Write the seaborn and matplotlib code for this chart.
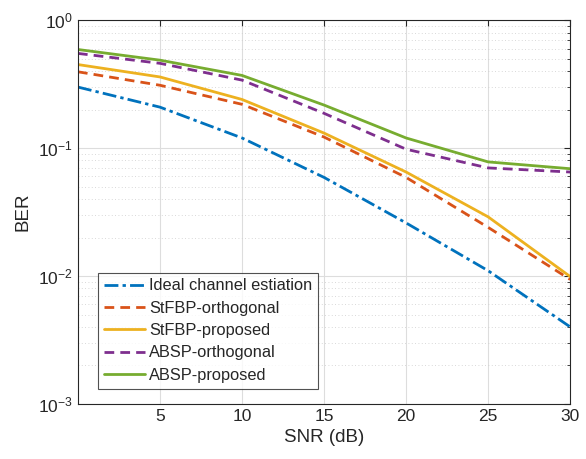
import numpy as np
import pandas as pd
import seaborn as sns
import matplotlib
matplotlib.use("Agg")
import matplotlib.pyplot as plt
from matplotlib.ticker import LogLocator, NullFormatter, FixedLocator

snr = [0, 5, 10, 15, 20, 25, 30]
ideal = [0.30, 0.209, 0.12, 0.059, 0.026, 0.011, 0.0040]
stfbp_orth = [0.395, 0.31, 0.22, 0.122, 0.059, 0.024, 0.0094]
stfbp_prop = [0.45, 0.36, 0.24, 0.131, 0.065, 0.029, 0.0099]
absp_orth = [0.55, 0.46, 0.34, 0.187, 0.098, 0.070, 0.065]
absp_prop = [0.59, 0.487, 0.37, 0.217, 0.12, 0.078, 0.069]
labels = ["Ideal channel estiation", "StFBP-orthogonal", "StFBP-proposed",
          "ABSP-orthogonal", "ABSP-proposed"]
xticks = [5, 10, 15, 20, 25, 30]

sns.set_theme(style="white")
plt.rcParams['font.family'] = ['Liberation Sans', 'DejaVu Sans']

fig = plt.figure(figsize=(5.86, 4.59), dpi=100)
ax = fig.add_axes([0.133, 0.120, 0.840, 0.836])

series = [ideal, stfbp_orth, stfbp_prop, absp_orth, absp_prop]
colors = ["#0072BD", "#D95319", "#EDB120", "#7E2F8E", "#77AC30"]
styles = [(0, (5, 1.5, 1.2, 1.5)), (0, (3.5, 2.2)), "-", (0, (3.5, 2.2)), "-"]

for lab, vals, c, ls in zip(labels, series, colors, styles):
    df = pd.DataFrame({"SNR": snr, "BER": vals})
    sns.lineplot(data=df, x="SNR", y="BER", ax=ax, color=c, linewidth=2.0,
                 linestyle=ls, label=lab)

ax.set_yscale("log")
ax.set_xlim(0, 30)
ax.set_ylim(1e-3, 1)
ax.xaxis.set_major_locator(FixedLocator(xticks))
ax.yaxis.set_major_locator(LogLocator(base=10, numticks=10))
ax.yaxis.set_minor_locator(LogLocator(base=10, subs=np.arange(2, 10), numticks=20))
ax.yaxis.set_minor_formatter(NullFormatter())

ax.grid(True, which="major", axis="both", color="#dddddd", linewidth=0.8, linestyle="-")
ax.grid(True, which="minor", axis="y", color="#cccccc", linewidth=0.6, linestyle=(0, (1, 3)))
ax.set_axisbelow(True)

ax.tick_params(which="both", direction="in", top=True, right=True, colors="#262626",
               labelsize=12.5, labelcolor="#262626")
ax.tick_params(which="major", length=4.5, width=0.8)
ax.tick_params(which="minor", length=2.5, width=0.6)
ax.tick_params(axis="x", which="minor", top=False, bottom=False)
for s in ax.spines.values():
    s.set_color("#262626")
    s.set_linewidth(0.8)

ax.set_xlabel("SNR (dB)", fontsize=13.5, color="#262626")
ax.set_ylabel("BER", fontsize=13.5, color="#262626", labelpad=5)

leg = ax.legend(loc="lower left", bbox_to_anchor=(0.041, 0.04), fontsize=11.8,
                frameon=True, fancybox=False, handlelength=2.5, handletextpad=0.25,
                labelspacing=0.45, borderpad=0.35, borderaxespad=0)
leg.get_frame().set_edgecolor("#262626")
leg.get_frame().set_linewidth(0.8)

fig.savefig("out.png", dpi=100)
